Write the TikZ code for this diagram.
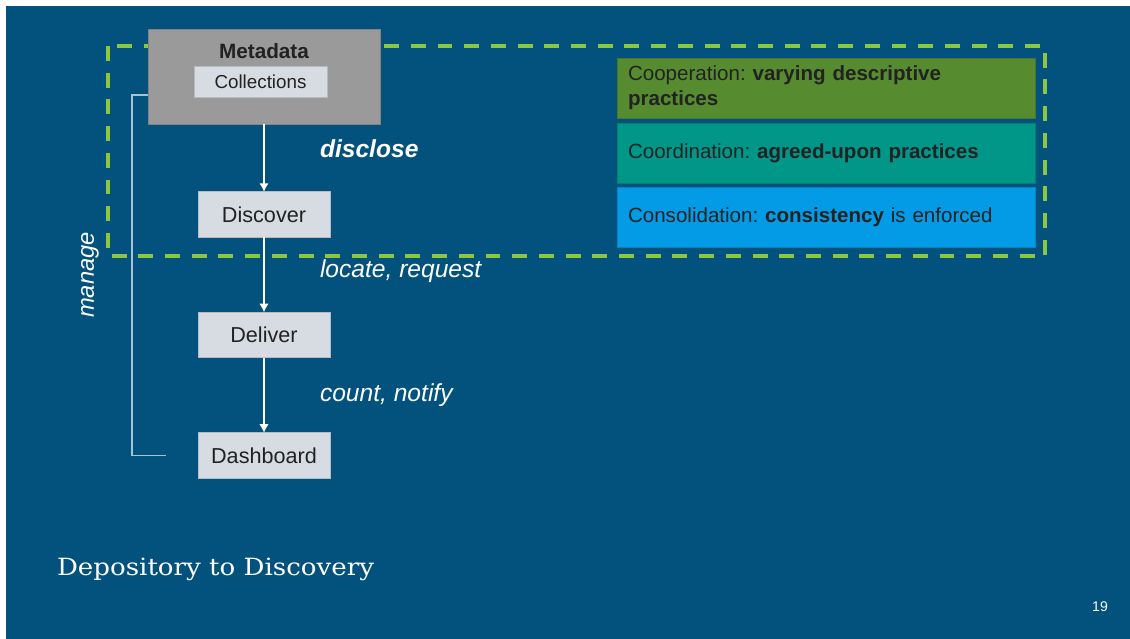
\documentclass[tikz,border=0pt]{standalone}
\usepackage{fontspec}
\setmainfont{Liberation Sans}
\newfontfamily\slabfont[FakeStretch=1.1]{DejaVu Serif}
\usepackage{tikz}
\usetikzlibrary{arrows.meta,positioning,calc}
\definecolor{SlideBlue}{HTML}{02527D}
\definecolor{MetaGray}{HTML}{9A9A9A}
\definecolor{BoxLight}{HTML}{D6DCE1}
\definecolor{Lime}{HTML}{8DC63F}
\definecolor{CoopGreen}{HTML}{578B2F}
\definecolor{CoordTeal}{HTML}{009688}
\definecolor{ConsolBlue}{HTML}{039BE5}
\definecolor{LineGray}{HTML}{A8C2D4}
\definecolor{Ink}{HTML}{222222}

\begin{document}
\begin{tikzpicture}[
  x=0.02cm,y=-0.02cm,
  node distance=1.5cm,
  every node/.style={inner sep=0pt,outer sep=0pt},
  metabox/.style={fill=MetaGray,draw=MetaGray!85!black,line width=0.4pt,minimum width=4.64cm,minimum height=1.9cm},
  flowbox/.style={fill=BoxLight,draw=BoxLight!85!black,line width=0.3pt,minimum width=2.64cm,minimum height=0.91cm,text=Ink,font=\fontsize{12.3}{14}\selectfont},
  tierbox/.style={line width=0.5pt,minimum width=8.36cm,minimum height=1.2cm,text width=7.92cm,inner xsep=0.22cm,align=left,text=Ink,font=\fontsize{11.7}{14.2}\selectfont\frenchspacing},
  verb/.style={anchor=west,text=white,font=\fontsize{14}{16}\selectfont\itshape},
  arr/.style={-{Latex[length=1.7mm,width=1.9mm]},line width=0.9pt,draw=white},
  scopeline/.style={draw=Lime,line width=2pt,dash pattern=on 8.5pt off 6.7pt}
]
\useasboundingbox[fill=white] (0,0) rectangle (1130,639);
\fill[SlideBlue] (6,6) rectangle (1130,639);
\draw[scopeline] (108,46) rectangle (1045,256);

\node[metabox] (meta) at (264,76.5) {};
\node[text=Ink,font=\fontsize{11.8}{14}\selectfont\bfseries] (metatitle) at (264,51) {Metadata};
\node[flowbox,minimum width=2.66cm,minimum height=0.62cm,font=\fontsize{10.7}{12}\selectfont] (coll) at (260.5,81.5) {Collections};

\node[flowbox] (discover) at (264,214.5) {Discover};
\node[flowbox,below=of discover] (deliver) {Deliver};
\node[flowbox,below=of deliver] (dashboard) {Dashboard};

\draw[arr] (meta) -- (discover);
\draw[arr] (discover) -- (deliver);
\draw[arr] (deliver) -- (dashboard);

\node[verb,font=\fontsize{14}{16}\selectfont\bfseries\itshape] (disclose) at (320,149) {disclose};
\node[verb] (locate) at (320,271) {locate, request};
\node[verb] (count) at (320,395) {count, notify};

\coordinate (mgtop) at ($(meta.south west)!0.305!(meta.north west)$);
\coordinate (mgend) at ($(dashboard.west)+(-32,0)$);
\draw[LineGray,line width=0.6pt] (mgtop) -- ++(-16,0) |- (mgend);
\node[rotate=90,text=white,font=\fontsize{13.5}{15}\selectfont\itshape] (manage) at (90,275) {manage};

\node[tierbox,fill=CoopGreen,draw=CoopGreen!85!black] (coop) at (826,88) {Cooperation: \textbf{varying descriptive}\\\textbf{practices}};
\node[tierbox,fill=CoordTeal,draw=CoordTeal!85!black] (coord) at (826,153) {Coordination: \textbf{agreed-upon practices}};
\node[tierbox,fill=ConsolBlue,draw=ConsolBlue!85!black] (consol) at (826,217) {Consolidation: \textbf{consistency} is enforced};

\node[anchor=west,text=white,font=\fontsize{13.5}{16}\selectfont\slabfont] (title) at (57,569) {Depository to Discovery};
\node[text=white,font=\fontsize{8}{9}\selectfont] (pagenum) at (1100,607) {19};
\end{tikzpicture}
\end{document}
